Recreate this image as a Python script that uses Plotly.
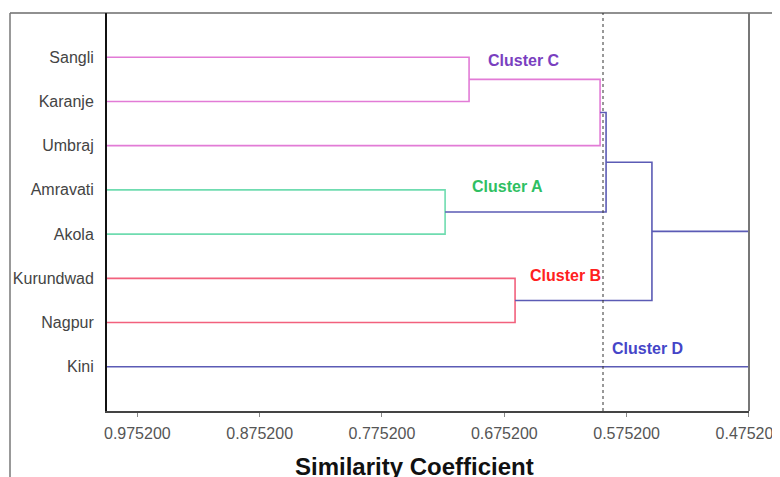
import plotly.graph_objects as go

# ---- data ----
leaves = ["Sangli", "Karanje", "Umbraj", "Amravati", "Akola", "Kurundwad", "Nagpur", "Kini"]
leaf_similarity = 1.0
# merges: node ids 0..7 are leaves, merge k creates node 8+k
merge_left = [0, 3, 5, 8, 11, 12, 13]
merge_right = [1, 4, 6, 2, 9, 10, 7]
merge_height = [0.704, 0.7236, 0.6664, 0.5969, 0.592, 0.5545, 0.4752]
merge_group = ["C", "A", "B", "C", "D", "D", "D"]
cut_level = 0.5945
tick_values = [0.9752, 0.8752, 0.7752, 0.6752, 0.5752, 0.4752]
tick_labels = ["0.975200", "0.875200", "0.775200", "0.675200", "0.575200", "0.475200"]
cluster_names = ["Cluster C", "Cluster A", "Cluster B", "Cluster D"]

# ---- styles ----
line_colors = {"C": "#e27bd6", "A": "#6fdcb0", "B": "#f2617d", "D": "#5b5bb5"}
label_colors = {"Cluster C": "#7a3fc0", "Cluster A": "#2fbf62", "Cluster B": "#ff2020", "Cluster D": "#4545c8"}
# label centre positions in page pixels (x, y)
label_px = {"Cluster C": (524, 61), "Cluster A": (507, 186), "Cluster B": (565, 275), "Cluster D": (647, 348)}

OFF = 8  # default body margin of the page
W, H = 780 - OFF, 477 - OFF
L, R, T, B = 107 - OFF, 749 - OFF, 13 - OFF, 411 - OFF
pw, ph = R - L, B - T

def px_to_paper(x, y):
    x -= OFF
    y -= OFF
    return (x - L) / pw, (B - y) / ph

node_x = {i: leaf_similarity for i in range(len(leaves))}
node_y = {i: i + 1 for i in range(len(leaves))}

fig = go.Figure()
for k, (a, b, h, g) in enumerate(zip(merge_left, merge_right, merge_height, merge_group)):
    xs = [node_x[a], h, h, node_x[b]]
    ys = [node_y[a], node_y[a], node_y[b], node_y[b]]
    fig.add_trace(go.Scatter(x=xs, y=ys, mode="lines",
                             line=dict(color=line_colors[g], width=1.6),
                             showlegend=False, hoverinfo="skip"))
    nid = len(leaves) + k
    node_x[nid] = h
    node_y[nid] = (node_y[a] + node_y[b]) / 2

# cut line
fig.add_shape(type="line", xref="x", yref="paper", x0=cut_level, x1=cut_level, y0=0, y1=1,
              line=dict(color="#333333", width=1, dash="dot"))

# frame lines
fx0, _ = px_to_paper(10, 0)
fx1, _ = px_to_paper(790, 0)
_, fyb = px_to_paper(0, 490)
fig.add_shape(type="line", xref="paper", yref="paper", x0=fx0, x1=fx1, y0=1, y1=1,
              line=dict(color="#222222", width=1.2))
fig.add_shape(type="line", xref="paper", yref="paper", x0=fx0, x1=fx0, y0=fyb, y1=1,
              line=dict(color="#777777", width=1.5))
fig.add_shape(type="line", xref="paper", yref="paper", x0=1, x1=1, y0=0, y1=1,
              line=dict(color="#777777", width=2))

for name in cluster_names:
    px, py = label_px[name]
    ax, ay = px_to_paper(px, py)
    fig.add_annotation(x=ax, y=ay, xref="paper", yref="paper", text=f"<b>{name}</b>",
                       showarrow=False, xanchor="center", yanchor="middle",
                       font=dict(family="Liberation Sans, Arial", size=16, color=label_colors[name]))

tx, ty = px_to_paper(414, 466)
fig.add_annotation(x=tx, y=ty, xref="paper", yref="paper", text="<b>Similarity Coefficient</b>",
                   showarrow=False, xanchor="center", yanchor="middle",
                   font=dict(family="Liberation Sans, Arial", size=24, color="#111111"))

fig.update_xaxes(range=[leaf_similarity, 0.47515], tickvals=tick_values, ticktext=tick_labels,
                 showgrid=False, zeroline=False, showline=True, linecolor="#444444", linewidth=2,
                 ticks="outside", ticklen=4, tickcolor="#888888", tickwidth=1,
                 ticklabelstandoff=3, ticklabeloverflow="allow", automargin=False,
                 tickfont=dict(family="Liberation Sans, Arial", size=16, color="#555555"))
fig.update_yaxes(range=[9, 0], tickvals=list(range(1, len(leaves) + 1)), ticktext=leaves,
                 showgrid=False, zeroline=False, showline=True, linecolor="#111111", linewidth=2,
                 ticks="", ticklabelstandoff=8, automargin=False,
                 tickfont=dict(family="Liberation Sans, Arial", size=16, color="#444444"))

fig.update_layout(width=W, height=H, margin=dict(l=L, r=W - R, t=T, b=H - B),
                  plot_bgcolor="white", paper_bgcolor="white")

fig.write_html("out.html")
